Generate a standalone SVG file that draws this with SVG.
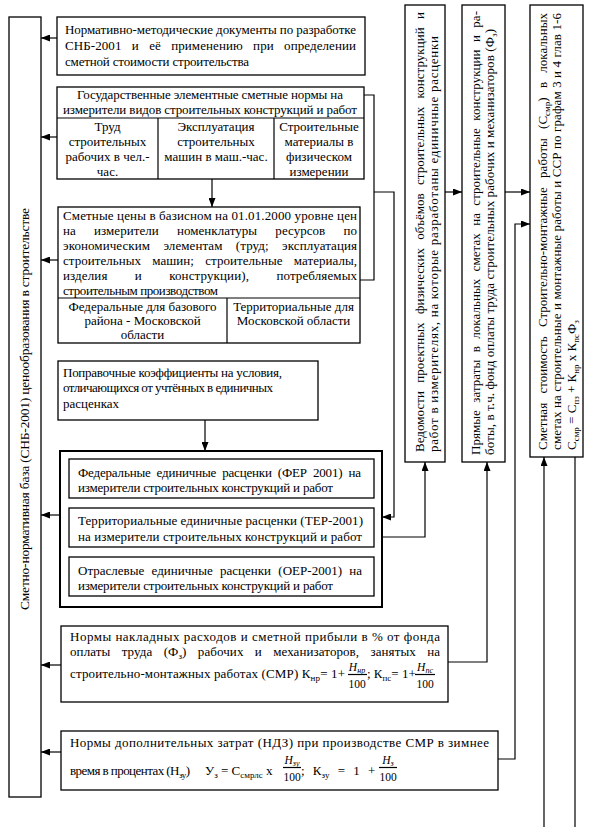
<svg xmlns="http://www.w3.org/2000/svg" width="604" height="831" viewBox="0 0 604 831">
<style>
text{font-family:"Liberation Serif","Times New Roman",serif;font-size:13px;fill:#000}
.c{text-anchor:middle}
.b{fill:#fff;stroke:#000;stroke-width:1.3}
.bt{fill:#fff;stroke:#000;stroke-width:2}
.l{fill:none;stroke:#000;stroke-width:1.2}
.a{marker-end:url(#ah)}
.s{font-size:9px}
.i{font-style:italic}
.f{font-size:11.5px}
.fs{font-size:8px}
.big{font-size:13.5px}
</style>
<defs>
<marker id="ah" markerWidth="9" markerHeight="7" refX="9" refY="3.5" orient="auto" markerUnits="userSpaceOnUse"><path d="M0,0 L9,3.5 L0,7 z" fill="#000"/></marker>
</defs>
<rect width="604" height="831" fill="#fff"/>

<g id="n0">
<rect class="b" x="9" y="17" width="32" height="780"/>
<text class="big" transform="rotate(-90)" x="-610" y="29" textLength="402" lengthAdjust="spacing">Сметно-нормативная база (СНБ-2001) ценообразования в строительстве</text>
</g>

<g id="n1">
<rect class="b" x="57" y="17" width="308" height="58"/>
<text x="65" y="34" textLength="291" lengthAdjust="spacing">Нормативно-методические документы по разработке</text>
<text x="65" y="50" word-spacing="7" textLength="291" lengthAdjust="spacing">СНБ-2001 и её применению при определении</text>
<text x="65" y="66" textLength="184" lengthAdjust="spacing">сметной стоимости строительства</text>
</g>

<g id="n2">
<rect class="b" x="57" y="87" width="307" height="92"/>
<path class="l" d="M57,118H364M158,118V179M274,118V179"/>
<text class="c" x="210" y="99" textLength="266" lengthAdjust="spacing">Государственные элементные сметные нормы на</text>
<text class="c" x="210" y="114" textLength="294" lengthAdjust="spacing">измерители видов строительных конструкций и работ</text>
<text class="c" x="107.5" y="131">Труд</text>
<text class="c" x="107.5" y="146">строительных</text>
<text class="c" x="107.5" y="161">рабочих в чел.-</text>
<text class="c" x="107.5" y="176">час.</text>
<text class="c" x="216" y="131">Эксплуатация</text>
<text class="c" x="216" y="146">строительных</text>
<text class="c" x="216" y="161">машин в маш.-час.</text>
<text class="c" x="319" y="131">Строительные</text>
<text class="c" x="319" y="146">материалы в</text>
<text class="c" x="319" y="161">физическом</text>
<text class="c" x="319" y="176">измерении</text>
</g>

<g id="n3">
<rect class="b" x="58" y="207" width="302" height="136"/>
<path class="l" d="M58,298H360M227,298V343"/>
<text x="63" y="220" textLength="294" lengthAdjust="spacing">Сметные цены  в базисном на 01.01.2000 уровне цен</text>
<text x="63" y="235" word-spacing="15" textLength="294" lengthAdjust="spacing">на измерители номенклатуры ресурсов по</text>
<text x="63" y="250" word-spacing="10" textLength="294" lengthAdjust="spacing">экономическим элементам (труд; эксплуатация</text>
<text x="63" y="265" word-spacing="8" textLength="294" lengthAdjust="spacing">строительных машин; строительные материалы,</text>
<text x="63" y="280" word-spacing="24" textLength="294" lengthAdjust="spacing">изделия и конструкции), потребляемых</text>
<text x="63" y="295" textLength="155" lengthAdjust="spacing">строительным производством</text>
<text class="c" x="142.5" y="311">Федеральные для базового</text>
<text class="c" x="142.5" y="325">района - Московской</text>
<text class="c" x="142.5" y="339">области</text>
<text class="c" x="293.5" y="311">Территориальные для</text>
<text class="c" x="293.5" y="325">Московской области</text>
</g>

<g id="n4">
<rect class="b" x="58" y="361" width="260" height="59"/>
<text x="63" y="377" textLength="219" lengthAdjust="spacing">Поправочные коэффициенты на условия,</text>
<text x="63" y="392" textLength="210" lengthAdjust="spacing">отличающихся от учтённых в единичных</text>
<text x="63" y="408">расценках</text>
</g>

<g id="n5">
<rect class="bt" x="60" y="451" width="322" height="156"/>
<g id="n5a">
<rect class="b" x="69" y="459" width="305" height="39"/>
<text x="78" y="477" word-spacing="3" textLength="283" lengthAdjust="spacing">Федеральные единичные расценки (ФЕР 2001) на</text>
<text x="78" y="492" textLength="255" lengthAdjust="spacing">измерители строительных конструкций и работ</text>
</g>
<g id="n5b">
<rect class="b" x="69" y="508" width="305" height="39"/>
<text x="78" y="525" textLength="285" lengthAdjust="spacing">Территориальные единичные расценки (ТЕР-2001)</text>
<text x="78" y="541" textLength="284" lengthAdjust="spacing">на измерители строительных конструкций и работ</text>
</g>
<g id="n5c">
<rect class="b" x="69" y="557" width="305" height="39"/>
<text x="78" y="575" word-spacing="4" textLength="284" lengthAdjust="spacing">Отраслевые единичные расценки (ОЕР-2001) на</text>
<text x="78" y="590" textLength="255" lengthAdjust="spacing">измерители строительных конструкций и работ</text>
</g>
</g>

<g id="n6">
<rect class="b" x="61" y="626" width="387" height="76"/>
<text x="70" y="641" textLength="370" lengthAdjust="spacing">Нормы накладных расходов и сметной прибыли в % от фонда</text>
<text x="70" y="656" word-spacing="8" textLength="370" lengthAdjust="spacing">оплаты труда (Ф<tspan class="s" dy="3">з</tspan><tspan dy="-3">) рабочих и механизаторов, занятых на</tspan></text>
<text x="70" y="678" textLength="275" lengthAdjust="spacing">строительно-монтажных работах (СМР) К<tspan class="s" dy="3">нр</tspan><tspan dy="-3">= 1+</tspan></text>
<text class="c i f" x="357" y="671">Н<tspan class="fs" dy="2">нр</tspan></text>
<path class="l" d="M348,674.5H367"/>
<text class="c f" x="357" y="688">100</text>
<text x="367" y="678">; К<tspan class="s" dy="3">пс</tspan><tspan dy="-3">= 1+</tspan></text>
<text class="c i f" x="425" y="671">Н<tspan class="fs" dy="2">пс</tspan></text>
<path class="l" d="M415,674.5H435"/>
<text class="c f" x="425" y="688">100</text>
</g>

<g id="n7">
<rect class="b" x="61" y="731" width="437" height="59"/>
<text x="70" y="747" textLength="419" lengthAdjust="spacing">Нормы дополнительных затрат (НДЗ) при производстве СМР в зимнее</text>
<text x="70" y="775" textLength="120" lengthAdjust="spacing">время в процентах (Н<tspan class="s" dy="3">зу</tspan><tspan dy="-3">)</tspan></text>
<text x="205" y="775">У<tspan class="s" dy="3">з</tspan><tspan dy="-3"> = С</tspan><tspan class="s" dy="3">смрлс</tspan><tspan dy="-3"> х</tspan></text>
<text class="c i f" x="292" y="764">Н<tspan class="fs" dy="2">зу</tspan></text>
<path class="l" d="M283,767.5H301"/>
<text class="c f" x="292" y="781">100</text>
<text x="301" y="775" word-spacing="5">; К<tspan class="s" dy="3">зу</tspan><tspan dy="-3"> = 1 +</tspan></text>
<text class="c i f" x="388" y="764">Н<tspan class="fs" dy="2">з</tspan></text>
<path class="l" d="M379,767.5H397"/>
<text class="c f" x="388" y="781">100</text>
</g>

<g id="v1">
<rect class="b" x="405" y="5" width="40" height="457"/>
<text transform="rotate(-90)" x="-452" y="424" word-spacing="5" textLength="440" lengthAdjust="spacing">Ведомости проектных физических объёмов строительных конструкций и</text>
<text transform="rotate(-90)" x="-452" y="438" textLength="416" lengthAdjust="spacing">работ в измерителях, на которые разработаны единичные расценки</text>
</g>

<g id="v2">
<rect class="b" x="462" y="5" width="43" height="457"/>
<text transform="rotate(-90)" x="-455" y="480" word-spacing="4" textLength="444" lengthAdjust="spacing">Прямые затраты в локальных сметах на строительные конструкции и ра-</text>
<text transform="rotate(-90)" x="-455" y="494" textLength="426" lengthAdjust="spacing">боты, в т.ч. фонд оплаты труда строительных рабочих и механизаторов (Ф<tspan class="s" dy="3">з</tspan><tspan dy="-3">)</tspan></text>
</g>

<g id="v3">
<rect class="b" x="530" y="5" width="53" height="452"/>
<text transform="rotate(-90)" x="-450" y="547" word-spacing="6" textLength="437" lengthAdjust="spacing">Сметная стоимость Строительно-монтажные работы (С<tspan class="s" dy="3">смр</tspan><tspan dy="-3">) в локальных</tspan></text>
<text transform="rotate(-90)" x="-450" y="561" textLength="437" lengthAdjust="spacing">сметах на строительные и монтажные работы и ССР по графам 3 и 4 глав 1-6</text>
<text transform="rotate(-90)" x="-450" y="576">С<tspan class="s" dy="3">смр</tspan><tspan dy="-3"> = С</tspan><tspan class="s" dy="3">пз</tspan><tspan dy="-3"> + К</tspan><tspan class="s" dy="3">нр</tspan><tspan dy="-3"> х К</tspan><tspan class="s" dy="3">пс</tspan><tspan dy="-3">Ф</tspan><tspan class="s" dy="3">з</tspan></text>
</g>

<g id="edges">
<path class="l a" d="M57,38H41"/>
<path class="l a" d="M57,137H41"/>
<path class="l a" d="M58,260H41"/>
<path class="l a" d="M60,515H41"/>
<path class="l a" d="M61,665H41"/>
<path class="l a" d="M61,752H41"/>
<path class="l a" d="M212,179V207"/>
<path class="l a" d="M205,420V451"/>
<path class="l" d="M364,95H374V280H360"/>
<path class="l a" d="M374,192H394V517H382"/>
<path class="l a" d="M382,537H425V462"/>
<path class="l a" d="M445,192H462"/>
<path class="l a" d="M505,192H530"/>
<path class="l a" d="M448,662H487V462"/>
<path class="l a" d="M498,759H515V224H530"/>
<path class="l a" d="M544,827V457"/>
<path class="l" d="M575,827V457"/>
</g>
</svg>
